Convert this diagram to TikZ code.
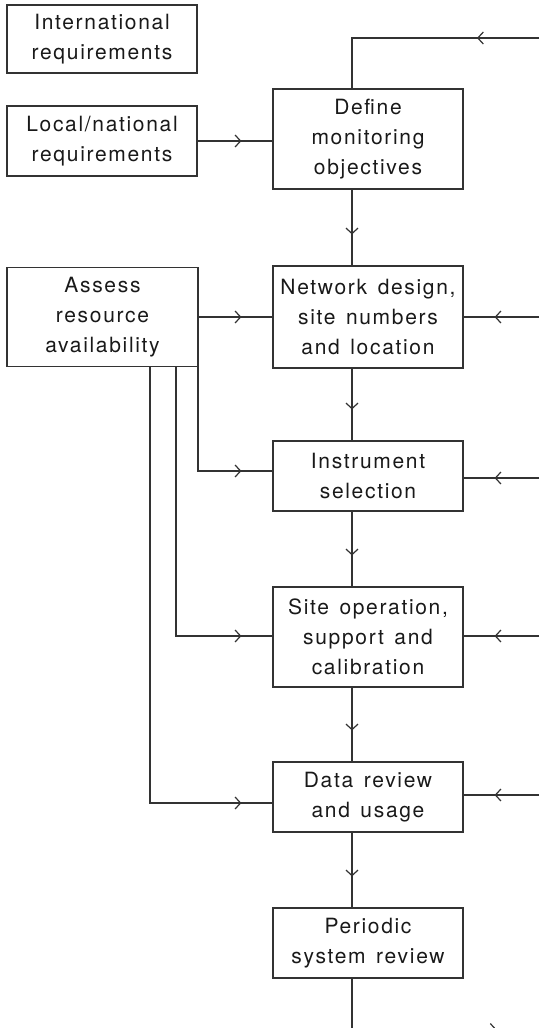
\documentclass[tikz,border=0pt]{standalone}
\usepackage{fontspec}
\setmainfont{TeX Gyre Heros}[LetterSpace=8,WordSpace=1.4]
\usetikzlibrary{arrows.meta,decorations.markings}
\tikzset{barb/.tip={Straight Barb[length=5.5pt,width=12pt,line width=1.2pt]}}
\begin{document}
\begin{tikzpicture}[x=1pt,y=-1pt,
  box/.style={draw=black!80,line width=1.2pt,align=center,minimum width=190pt,inner sep=0pt,
     font=\fontsize{21}{30}\selectfont,text=black!90},
  conn/.style={draw=black!80,line width=1.2pt},
  endarrow/.style={postaction={decorate},decoration={markings,mark=at position -31pt with {\arrow{barb}}}},
  posarrow/.style={postaction={decorate},decoration={markings,mark=at position #1 with {\arrow{barb}}}}
]
\useasboundingbox (0,0) rectangle (539,1028);

\node[box,minimum height=68pt] (intl) at (102,39) {International\\requirements};
\node[box,minimum height=70pt] (local) at (102,141) {Local/national\\requirements};
\node[box,minimum height=99pt,minimum width=191pt] (assess) at (102.5,317) {Assess\\resource\\availability};

\node[box,minimum height=100pt] (define) at (368,139) {Define\\monitoring\\objectives};
\node[box,minimum height=102pt] (network) at (368,317) {Network design,\\site numbers\\and location};
\node[box,minimum height=70pt] (instr) at (368,476) {Instrument\\selection};
\node[box,minimum height=100pt] (site) at (368,637) {Site operation,\\support and\\calibration};
\node[box,minimum height=70pt] (data) at (368,797) {Data review\\and usage};
\node[box,minimum height=70pt] (periodic) at (368,943) {Periodic\\system review};

\coordinate (cx) at (352,0);
\coordinate (rin1) at (539,317);
\coordinate (rin2) at (539,478);
\coordinate (rin3) at (539,636);
\coordinate (rin4) at (539,795);
\coordinate (topin) at (539,38);
\coordinate (topc) at (352,38);
\coordinate (botc) at (352,1029.5);
\coordinate (botout) at (600,1029.5);
\coordinate (a1) at (198,0);
\coordinate (a2) at (176,0);
\coordinate (a3) at (150,0);

% left inputs
\draw[conn,endarrow] (local.east) -- (define.west |- local.east);
\draw[conn,endarrow] (assess.east) -- (network.west |- assess.east);
\draw[conn,endarrow] (assess.south -| a1) -- ([yshift=5pt]instr.west -| a1) -- ([yshift=5pt]instr.west);
\draw[conn,endarrow] (assess.south -| a2) -- ([yshift=1pt]site.west -| a2) -- ([yshift=1pt]site.west);
\draw[conn,endarrow] (assess.south -| a3) -- ([yshift=-6pt]data.west -| a3) -- ([yshift=-6pt]data.west);

% main chain
\draw[conn,endarrow] (define.south -| cx) -- (network.north -| cx);
\draw[conn,endarrow] (network.south -| cx) -- (instr.north -| cx);
\draw[conn,endarrow] (instr.south -| cx) -- (site.north -| cx);
\draw[conn,endarrow] (site.south -| cx) -- (data.north -| cx);
\draw[conn,endarrow] (data.south -| cx) -- (periodic.north -| cx);

% right inputs
\draw[conn,endarrow] (rin1) -- (network.east |- rin1);
\draw[conn,endarrow] (rin2) -- (instr.east |- rin2);
\draw[conn,endarrow] (rin3) -- (site.east |- rin3);
\draw[conn,endarrow] (rin4) -- (data.east |- rin4);

% feedback loop
\draw[conn,posarrow=62pt] (topin) -- (topc) -- (topc |- define.north);
\draw[conn,posarrow=195.5pt] (periodic.south -| cx) -- (botc) -- (botout);
\end{tikzpicture}
\end{document}
